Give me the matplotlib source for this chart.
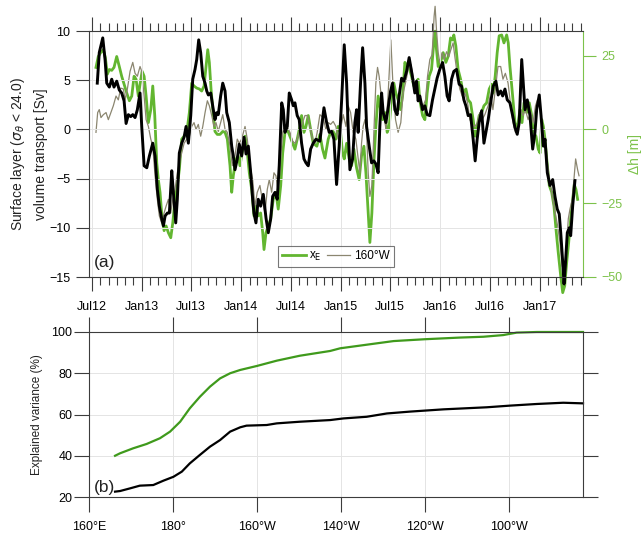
import datetime as dt

import matplotlib
matplotlib.use('Agg')
import matplotlib.pyplot as plt
import matplotlib.dates as mdates

plt.rcParams['font.family'] = ['Liberation Sans', 'DejaVu Sans']

# ---- (a) time series, time in decimal years ----
t_sv = [2012.553, 2012.573, 2012.608, 2012.631, 2012.648, 2012.674, 2012.698, 2012.721, 2012.748, 2012.774,
        2012.798, 2012.822, 2012.842, 2012.865, 2012.889, 2012.909, 2012.932, 2012.955, 2012.982, 2012.999,
        2013.023, 2013.050, 2013.076, 2013.110, 2013.133, 2013.156, 2013.176, 2013.200, 2013.217, 2013.234,
        2013.257, 2013.277, 2013.301, 2013.317, 2013.341, 2013.357, 2013.377, 2013.401, 2013.425, 2013.445,
        2013.468, 2013.492, 2013.512, 2013.535, 2013.552, 2013.572, 2013.592, 2013.613, 2013.636, 2013.653,
        2013.669, 2013.693, 2013.719, 2013.736, 2013.753, 2013.769, 2013.793, 2013.814, 2013.837, 2013.854,
        2013.880, 2013.904, 2013.920, 2013.937, 2013.960, 2013.980, 2014.004, 2014.028, 2014.048, 2014.071,
        2014.095, 2014.115, 2014.128, 2014.148, 2014.171, 2014.195, 2014.222, 2014.249, 2014.272, 2014.296,
        2014.316, 2014.339, 2014.362, 2014.382, 2014.407, 2014.423, 2014.440, 2014.463, 2014.483, 2014.507,
        2014.523, 2014.540, 2014.563, 2014.583, 2014.607, 2014.631, 2014.651, 2014.674, 2014.698, 2014.724,
        2014.751, 2014.791, 2014.832, 2014.859, 2014.885, 2014.909, 2014.932, 2014.959, 2014.985, 2015.010,
        2015.036, 2015.060, 2015.080, 2015.093, 2015.120, 2015.143, 2015.160, 2015.176, 2015.200, 2015.221,
        2015.244, 2015.261, 2015.287, 2015.311, 2015.334, 2015.354, 2015.377, 2015.394, 2015.412, 2015.428,
        2015.455, 2015.478, 2015.502, 2015.522, 2015.545, 2015.568, 2015.588, 2015.613, 2015.636, 2015.663,
        2015.689, 2015.713, 2015.729, 2015.746, 2015.763, 2015.779, 2015.796, 2015.824, 2015.847, 2015.870,
        2015.897, 2015.924, 2015.947, 2015.970, 2015.997, 2016.025, 2016.048, 2016.071, 2016.091, 2016.115,
        2016.138, 2016.165, 2016.191, 2016.215, 2016.239, 2016.259, 2016.282, 2016.306, 2016.332, 2016.352,
        2016.372, 2016.392, 2016.417, 2016.440, 2016.460, 2016.483, 2016.507, 2016.533, 2016.560, 2016.583,
        2016.608, 2016.628, 2016.651, 2016.674, 2016.701, 2016.728, 2016.751, 2016.774, 2016.794, 2016.819,
        2016.835, 2016.852, 2016.875, 2016.902, 2016.929, 2016.952, 2016.969, 2016.995, 2017.013, 2017.036,
        2017.053, 2017.076, 2017.103, 2017.130, 2017.153, 2017.176, 2017.196, 2017.211, 2017.231, 2017.244,
        2017.257, 2017.277, 2017.297, 2017.311, 2017.331, 2017.354]
transport = [4.7, 7.8, 9.3, 7.1, 4.7, 4.3, 5.1, 4.3, 4.9, 4.0,
             3.7, 2.9, 0.6, 1.5, 1.3, 1.5, 1.2, 2.0, 3.7, 0.3,
             -3.7, -3.9, -2.7, -1.4, -2.7, -6.1, -7.8, -9.1, -9.8, -8.8,
             -8.5, -8.5, -4.2, -6.4, -9.5, -7.1, -2.4, -1.4, -0.8, 0.3,
             -1.4, 1.4, 5.1, 6.1, 7.1, 9.1, 7.8, 5.4, 4.7, 3.9,
             3.5, 3.7, 2.0, 1.0, 1.7, 1.5, 3.4, 4.7, 3.9, 1.7,
             0.7, -1.7, -2.7, -4.1, -3.0, -1.5, -2.7, -0.8, -2.5, -1.7,
             -4.4, -7.1, -8.5, -9.5, -7.1, -7.8, -6.6, -9.0, -10.5, -9.1,
             -6.8, -6.4, -7.1, -3.7, 2.7, 2.0, -0.3, 0.3, 3.7, 3.0,
             2.4, 2.7, 1.4, 1.0, -1.4, -3.0, -3.4, -3.7, -2.0, -1.4,
             -1.0, -1.2, 2.2, 0.7, -0.3, -0.2, -1.0, -5.6, -1.7, 3.0,
             8.6, 4.7, -1.0, -4.1, -3.0, 0.7, 2.0, -0.3, 4.7, 8.3,
             4.7, 0.3, -1.7, -3.4, -3.2, -3.5, -4.4, 0.3, 3.7, 1.7,
             0.7, 2.2, 3.9, 4.7, 2.0, 1.5, 3.4, 5.2, 4.9, 5.9,
             7.3, 5.9, 4.9, 3.7, 4.9, 2.9, 3.4, 2.0, 2.4, 1.5,
             1.4, 3.0, 4.1, 5.2, 6.1, 6.8, 5.4, 3.4, 2.9, 5.1,
             5.9, 6.1, 4.6, 4.4, 3.0, 2.4, 1.4, 1.5, -1.0, -3.2,
             -1.0, 0.7, 1.9, -1.4, -0.3, 1.0, 2.7, 4.4, 4.9, 3.5,
             3.9, 3.4, 4.1, 3.0, 2.7, 1.4, 0.2, -0.5, 0.7, 7.1,
             4.7, 2.0, 3.0, 1.4, -2.0, -0.3, 2.0, 3.5, 1.4, -1.7,
             -1.0, -4.4, -5.7, -5.1, -6.8, -8.1, -8.6, -10.5, -13.5, -15.7,
             -13.9, -10.5, -10.0, -10.8, -7.8, -5.2]

t_xe = [2012.540, 2012.563, 2012.587, 2012.614, 2012.634, 2012.654, 2012.674, 2012.698, 2012.721, 2012.748,
        2012.774, 2012.798, 2012.822, 2012.849, 2012.875, 2012.899, 2012.922, 2012.942, 2012.965, 2012.982,
        2013.003, 2013.023, 2013.043, 2013.066, 2013.090, 2013.110, 2013.130, 2013.150, 2013.166, 2013.183,
        2013.204, 2013.224, 2013.244, 2013.267, 2013.291, 2013.311, 2013.334, 2013.357, 2013.377, 2013.401,
        2013.425, 2013.452, 2013.478, 2013.502, 2013.525, 2013.552, 2013.578, 2013.602, 2013.626, 2013.646,
        2013.663, 2013.679, 2013.696, 2013.719, 2013.736, 2013.759, 2013.786, 2013.814, 2013.837, 2013.860,
        2013.887, 2013.904, 2013.920, 2013.947, 2013.970, 2013.987, 2014.015, 2014.038, 2014.055, 2014.081,
        2014.105, 2014.128, 2014.148, 2014.171, 2014.195, 2014.216, 2014.229, 2014.249, 2014.272, 2014.296,
        2014.322, 2014.349, 2014.372, 2014.397, 2014.417, 2014.440, 2014.463, 2014.490, 2014.517, 2014.540,
        2014.563, 2014.590, 2014.607, 2014.631, 2014.651, 2014.674, 2014.698, 2014.724, 2014.761, 2014.791,
        2014.818, 2014.842, 2014.875, 2014.899, 2014.925, 2014.952, 2014.975, 2014.999, 2015.019, 2015.036,
        2015.060, 2015.086, 2015.110, 2015.133, 2015.160, 2015.186, 2015.210, 2015.234, 2015.254, 2015.277,
        2015.294, 2015.314, 2015.334, 2015.354, 2015.377, 2015.402, 2015.422, 2015.445, 2015.468, 2015.488,
        2015.512, 2015.535, 2015.555, 2015.578, 2015.602, 2015.623, 2015.646, 2015.669, 2015.689, 2015.713,
        2015.736, 2015.756, 2015.779, 2015.796, 2015.824, 2015.847, 2015.870, 2015.890, 2015.914, 2015.937,
        2015.950, 2015.964, 2015.981, 2016.005, 2016.031, 2016.058, 2016.081, 2016.105, 2016.125, 2016.138,
        2016.158, 2016.181, 2016.206, 2016.232, 2016.259, 2016.282, 2016.306, 2016.332, 2016.352, 2016.372,
        2016.392, 2016.417, 2016.440, 2016.467, 2016.493, 2016.517, 2016.533, 2016.553, 2016.573, 2016.593,
        2016.618, 2016.641, 2016.668, 2016.684, 2016.701, 2016.728, 2016.751, 2016.774, 2016.802, 2016.822,
        2016.842, 2016.869, 2016.895, 2016.919, 2016.935, 2016.962, 2016.985, 2017.003, 2017.020, 2017.036,
        2017.053, 2017.070, 2017.096, 2017.120, 2017.143, 2017.163, 2017.186, 2017.211, 2017.231, 2017.251,
        2017.271, 2017.291, 2017.311, 2017.331, 2017.347, 2017.364, 2017.381]
dh_xe = [21.0, 24.7, 26.0, 27.0, 24.3, 18.7, 20.3, 20.0, 21.0, 24.7,
         21.3, 18.0, 15.3, 12.3, 9.7, 11.3, 18.0, 17.0, 11.3, 15.3,
         19.7, 18.0, 11.3, 2.3, 6.7, 14.7, 4.7, -11.3, -17.0, -21.3,
         -30.3, -34.3, -32.7, -35.0, -36.7, -31.7, -23.7, -19.0, -13.7, -3.3,
         -2.3, -1.0, 5.7, 15.7, 14.7, 14.0, 13.7, 13.0, 14.7, 21.3,
         27.0, 22.7, 13.7, 4.7, -0.7, -1.7, -1.7, -0.7, -1.0, -3.3,
         -12.3, -21.3, -15.7, -10.0, -9.0, -12.3, -6.7, -2.3, -5.7, -14.7,
         -20.3, -29.3, -26.0, -29.3, -28.3, -35.0, -40.7, -35.0, -32.7, -30.3,
         -23.7, -21.3, -27.0, -19.0, -8.0, -1.0, 0.0, -2.3, -4.7, -6.7,
         -3.3, 1.0, 4.7, -1.0, 1.0, 4.7, 0.0, -4.7, -5.7, -1.7,
         -6.7, -9.7, -3.3, -1.0, -0.7, -3.3, 1.0, -1.0, -8.0, -10.0,
         -4.7, -10.0, -12.3, -6.7, -13.0, -17.0, -9.0, -5.7, -14.7, -28.3,
         -38.3, -28.3, -11.3, 1.0, 11.3, 6.7, 3.3, 5.7, -1.0, 0.7,
         11.3, 15.7, 12.3, 10.0, 6.7, 11.3, 22.7, 21.3, 21.0, 18.0,
         14.7, 15.7, 17.0, 10.0, 4.7, 3.3, 12.3, 18.0, 20.3, 29.3,
         33.3, 27.0, 21.3, 22.7, 26.0, 22.7, 24.7, 31.0, 30.3, 32.0,
         28.3, 20.3, 17.0, 12.3, 13.7, 10.0, 9.0, 3.3, -2.3, 1.0,
         4.7, 5.7, 8.0, 9.0, 13.7, 15.3, 12.3, 18.0, 26.0, 31.7,
         32.0, 29.3, 32.0, 29.3, 21.3, 11.3, 2.3, 0.0, 6.7, 2.3,
         9.0, 5.7, 9.0, 4.7, -1.0, -2.3, -6.7, -8.0, 3.3, 1.0,
         -3.3, -10.0, -19.0, -21.3, -26.0, -33.7, -41.7, -49.7, -55.3, -53.0,
         -45.0, -38.3, -30.3, -23.7, -18.7, -20.3, -23.7]

t_160w = [2012.540, 2012.557, 2012.573, 2012.590, 2012.614, 2012.641, 2012.664, 2012.714, 2012.741, 2012.764,
          2012.788, 2012.815, 2012.832, 2012.855, 2012.882, 2012.909, 2012.932, 2012.955, 2012.982, 2012.999,
          2013.023, 2013.043, 2013.066, 2013.090, 2013.110, 2013.133, 2013.156, 2013.176, 2013.200, 2013.224,
          2013.244, 2013.267, 2013.291, 2013.311, 2013.334, 2013.357, 2013.377, 2013.401, 2013.425, 2013.452,
          2013.478, 2013.502, 2013.525, 2013.545, 2013.568, 2013.592, 2013.613, 2013.636, 2013.659, 2013.679,
          2013.703, 2013.726, 2013.746, 2013.769, 2013.793, 2013.814, 2013.837, 2013.860, 2013.887, 2013.910,
          2013.937, 2013.960, 2013.980, 2014.004, 2014.038, 2014.061, 2014.088, 2014.115, 2014.138, 2014.161,
          2014.188, 2014.216, 2014.239, 2014.262, 2014.282, 2014.306, 2014.329, 2014.349, 2014.372, 2014.397,
          2014.417, 2014.440, 2014.463, 2014.490, 2014.517, 2014.540, 2014.563, 2014.590, 2014.617, 2014.641,
          2014.664, 2014.691, 2014.718, 2014.741, 2014.764, 2014.791, 2014.824, 2014.851, 2014.875, 2014.899,
          2014.925, 2014.952, 2014.975, 2014.999, 2015.026, 2015.053, 2015.076, 2015.100, 2015.126, 2015.153,
          2015.176, 2015.193, 2015.210, 2015.226, 2015.244, 2015.261, 2015.277, 2015.294, 2015.314, 2015.334,
          2015.354, 2015.371, 2015.387, 2015.412, 2015.435, 2015.455, 2015.478, 2015.505, 2015.528, 2015.552,
          2015.578, 2015.605, 2015.628, 2015.652, 2015.679, 2015.706, 2015.729, 2015.753, 2015.779, 2015.806,
          2015.830, 2015.854, 2015.874, 2015.897, 2015.920, 2015.940, 2015.950, 2015.964, 2015.981, 2015.997,
          2016.021, 2016.041, 2016.065, 2016.088, 2016.108, 2016.131, 2016.148, 2016.175, 2016.198, 2016.222,
          2016.249, 2016.276, 2016.299, 2016.322, 2016.349, 2016.376, 2016.399, 2016.422, 2016.449, 2016.482,
          2016.508, 2016.530, 2016.555, 2016.581, 2016.608, 2016.631, 2016.655, 2016.682, 2016.709, 2016.732,
          2016.756, 2016.782, 2016.809, 2016.832, 2016.856, 2016.883, 2016.910, 2016.933, 2016.957, 2016.977,
          2017.003, 2017.026, 2017.053, 2017.080, 2017.103, 2017.126, 2017.153, 2017.180, 2017.203, 2017.226,
          2017.247, 2017.267, 2017.287, 2017.304, 2017.327, 2017.347, 2017.361, 2017.381, 2017.395]
dh_160w = [-1.0, 5.7, 6.7, 4.0, 5.0, 5.7, 3.3, 8.0, 11.3, 10.0,
           14.0, 13.7, 10.0, 13.7, 19.7, 22.7, 19.0, 18.0, 21.3, 19.7,
           11.3, 3.3, 1.0, -3.3, -5.7, -15.7, -23.7, -29.3, -31.7, -28.3,
           -26.0, -23.7, -28.3, -23.7, -20.3, -14.7, -11.3, -8.0, -4.7, -3.3,
           -2.3, 1.0, 2.3, 0.0, 1.7, -2.3, 1.0, 5.7, 9.7, 8.0,
           4.7, 1.0, 2.3, -0.7, 2.3, 5.0, 0.0, -1.0, -5.7, -12.3,
           -9.0, -3.3, -4.7, -3.3, 1.0, -3.3, -12.3, -17.0, -26.0, -21.3,
           -19.0, -24.7, -28.3, -20.3, -17.0, -21.3, -14.7, -15.7, -21.3, -10.0,
           -1.0, 1.7, 0.7, -1.0, -4.0, -4.7, -3.3, 0.0, 2.3, 4.7,
           4.7, 1.0, -3.3, -4.7, -1.0, 5.0, 4.0, 0.0, 2.3, 1.7,
           2.7, 1.0, -3.3, 0.0, 5.0, 1.0, 8.0, 5.7, -1.0, -3.3,
           -10.0, -14.7, -4.7, 1.0, 3.3, -1.0, -14.7, -22.7, -19.0, -1.0,
           15.7, 21.0, 18.0, 10.0, 5.7, 0.0, 12.3, 30.3, 13.7, 3.3,
           -1.0, 2.3, 12.3, 15.7, 20.3, 22.0, 18.0, 13.7, 11.3, 9.0,
           8.0, 10.0, 18.0, 23.7, 25.3, 38.3, 41.7, 33.7, 26.0, 22.7,
           26.0, 23.7, 26.3, 24.7, 27.0, 29.3, 24.7, 18.0, 13.7, 11.3,
           12.3, 9.0, 3.3, 1.7, 1.0, 2.3, 5.7, 3.3, 5.0, 8.0,
           12.3, 6.7, 13.7, 21.3, 21.3, 17.0, 19.0, 15.7, 8.0, 2.3,
           -1.0, 1.0, 6.7, 4.7, 6.7, 3.3, 5.7, 2.3, 8.0, 10.0,
           6.7, 1.0, -4.7, -12.3, -18.0, -22.7, -28.0, -32.7, -38.3, -46.3,
           -48.3, -40.7, -30.3, -27.0, -23.7, -15.7, -10.0, -13.7, -15.7]

# ---- (b) explained variance against longitude (degrees east) ----
lon_xe = [166.2, 167.4, 170.5, 173.7, 176.9, 179.3, 181.7, 184.0, 186.4, 188.8,
          191.2, 193.6, 196.0, 199.9, 204.7, 210.2, 217.4, 219.8, 228.5, 232.5,
          240.0, 248.3, 253.9, 258.6, 261.8, 266.6, 277.6]
var_xe = [40.0, 41.2, 43.6, 45.7, 48.5, 51.7, 56.5, 63.0, 68.6, 73.5,
          77.5, 80.0, 81.6, 83.5, 86.1, 88.5, 90.8, 92.1, 94.5, 95.6,
          96.5, 97.3, 97.7, 98.5, 99.7, 100.0, 100.0]
lon_160w = [166.2, 167.4, 169.8, 172.1, 175.3, 177.7, 180.1, 182.1, 184.0, 186.4,
            188.8, 191.2, 193.6, 196.0, 197.5, 202.3, 204.7, 210.2, 217.4, 220.6,
            226.1, 230.9, 236.4, 244.4, 254.7, 260.2, 266.6, 272.9, 277.6]
var_160w = [22.6, 22.9, 24.2, 25.5, 25.8, 27.9, 29.8, 32.3, 36.3, 40.4,
            44.4, 47.6, 51.7, 53.8, 54.6, 54.9, 55.7, 56.5, 57.3, 58.1,
            58.9, 60.5, 61.4, 62.5, 63.5, 64.3, 65.1, 65.7, 65.4]
lon_ticks = [160, 180, 200, 220, 240, 260]
lon_labels = ['160°E', '180°', '160°W', '140°W', '120°W', '100°W']

GREEN = '#62b630'
GREEN_AX = '#7cc24a'
GREEN_DARK = '#3f9a1c'
GRAY = '#8b8670'
AXC = '#3c3c3c'
GRID = '#e4e4e4'


def to_dates(years):
    out = []
    for y in years:
        yr = int(y)
        start = dt.datetime(yr, 1, 1)
        out.append(start + (dt.datetime(yr + 1, 1, 1) - start) * (y - yr))
    return out


fig = plt.figure(figsize=(6.41, 5.35), dpi=100)
ax = fig.add_axes([89 / 641, 1 - 277 / 535, 494 / 641, 246 / 535])
ax2 = ax.twinx()
ax.set_zorder(ax2.get_zorder() + 1)
ax.patch.set_visible(False)

l1, = ax2.plot(to_dates(t_xe), dh_xe, color=GREEN, lw=2.0, clip_on=False)
l2, = ax2.plot(to_dates(t_160w), dh_160w, color=GRAY, lw=0.9, clip_on=False)
ax.plot(to_dates(t_sv), transport, color='black', lw=2.1, clip_on=False)

ax.set_xlim(to_dates([2012.470, 2017.435]))
ax.set_ylim(-15, 10)
ax.set_yticks([-15, -10, -5, 0, 5, 10])
ax2.set_ylim(-50, 100 / 3)
ax2.set_yticks([-50, -25, 0, 25])

ax.xaxis.set_major_locator(mdates.MonthLocator(bymonth=[1, 7]))
ax.xaxis.set_minor_locator(mdates.MonthLocator())
ax.xaxis.set_major_formatter(mdates.DateFormatter('%b%y'))
ax.tick_params(axis='x', which='major', direction='out', top=True, bottom=True,
               length=10, width=0.8, color=AXC, labelsize=9, pad=7)
ax.tick_params(axis='x', which='minor', direction='out', top=True, bottom=True,
               length=5.5, width=0.8, color=AXC)
ax.tick_params(axis='y', direction='out', length=9.5, width=0.8, color=AXC,
               labelsize=9, pad=4)
ax2.tick_params(axis='y', direction='out', length=9.5, width=0.8, colors=GREEN_AX,
                labelsize=9, pad=4)
ax.grid(True, which='major', color=GRID, lw=0.7)
ax.set_axisbelow(True)

for s in ['left', 'top', 'bottom']:
    ax.spines[s].set_color(AXC)
    ax2.spines[s].set_visible(False)
ax.spines['right'].set_visible(False)
ax2.spines['right'].set_color(GREEN_AX)

ax.set_ylabel('Surface layer ($\\sigma_\\theta$ < 24.0)\nvolume transport [Sv]',
              fontsize=10, color='#222222', labelpad=1, linespacing=1.6)
ax2.set_ylabel('Δh [m]', fontsize=10, color=GREEN_AX, labelpad=4)
ax.text(0.01, 0.04, '(a)', transform=ax.transAxes, fontsize=12.5, color='#222222')

leg = ax.legend([l1, l2], ['x$_\\mathrm{E}$', '160°W'], ncol=2, loc='lower center',
                bbox_to_anchor=(0.5, 0.04), fontsize=8.5, frameon=True, fancybox=False,
                handlelength=2.0, handletextpad=0.3, columnspacing=0.4,
                borderpad=0.35, borderaxespad=0)
leg.get_frame().set_edgecolor('#555555')
leg.get_frame().set_linewidth(0.8)

# ---- (b) ----
bx = fig.add_axes([89 / 641, 1 - 497 / 535, 494 / 641, 165 / 535])
bx.plot(lon_xe, var_xe, color=GREEN_DARK, lw=1.6, clip_on=False)
bx.plot(lon_160w, var_160w, color='black', lw=1.6, clip_on=False)
bx.set_xlim(160, 277.6)
bx.set_ylim(20, 100)
bx.set_xticks(lon_ticks)
bx.set_xticklabels(lon_labels)
bx.set_yticks([20, 40, 60, 80, 100])
bx.tick_params(axis='both', direction='out', top=True, bottom=True, left=True, right=True,
               length=10.5, width=0.8, color=AXC, labelsize=9)
bx.tick_params(axis='x', pad=7)
bx.tick_params(axis='y', pad=1.5)
bx.grid(True, color=GRID, lw=0.7)
bx.set_axisbelow(True)
for s in bx.spines.values():
    s.set_color(AXC)
bx.set_ylabel('Explained variance (%)', fontsize=8.5, color='#222222', labelpad=6)
bx.text(0.01, 0.03, '(b)', transform=bx.transAxes, fontsize=12.5, color='#222222')

fig.savefig('out.png', dpi=100)
